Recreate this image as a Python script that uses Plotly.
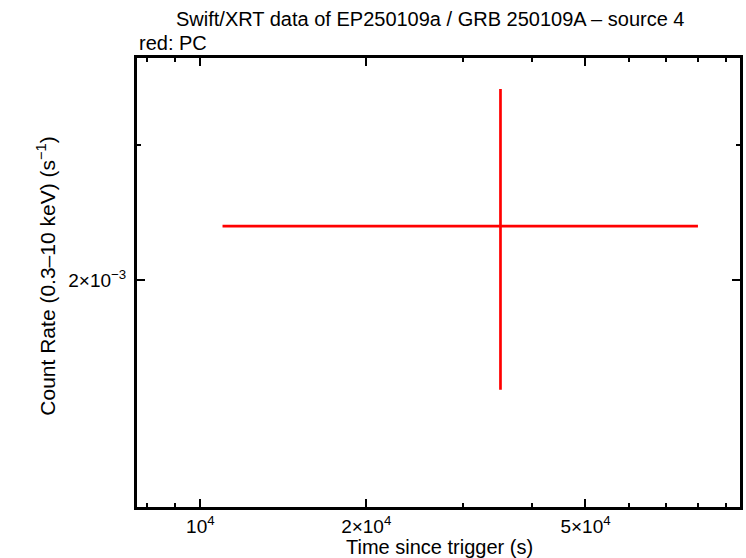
import plotly.graph_objects as go

# Data
time_s = [35050]
time_err_minus = [35050 - 10970]
time_err_plus = [80000 - 35050]
rate = [2.351e-3]
rate_err_plus = [3.549e-3 - 2.351e-3]
rate_err_minus = [2.351e-3 - 1.439e-3]

x_major_vals = [1e4, 2e4, 5e4]
x_major_text = ["10<sup>4</sup>", "2×10<sup>4</sup>", "5×10<sup>4</sup>"]
x_minor_vals = [8e3, 9e3, 3e4, 4e4, 6e4, 7e4, 8e4, 9e4]
y_major_vals = [2e-3]
y_major_text = ["2×10<sup>−3</sup>"]
y_minor_vals = [3e-3]

FONT = "Liberation Sans, Arial, Helvetica, sans-serif"

fig = go.Figure()
fig.add_trace(go.Scatter(
    x=time_s, y=rate, mode="markers",
    marker=dict(size=1, color="red", opacity=0),
    error_x=dict(type="data", symmetric=False, array=time_err_plus,
                 arrayminus=time_err_minus, color="red", thickness=2.7, width=0),
    error_y=dict(type="data", symmetric=False, array=rate_err_plus,
                 arrayminus=rate_err_minus, color="red", thickness=2.7, width=0),
    showlegend=False,
))

fig.update_layout(
    width=746, height=558,
    margin=dict(l=137, r=3, t=58, b=51),
    paper_bgcolor="white", plot_bgcolor="white",
    font=dict(family=FONT, size=19, color="black"),
    xaxis=dict(
        type="log", range=[3.885, 4.9794],
        showgrid=False, zeroline=False,
        showline=True, linecolor="black", linewidth=3, mirror="ticks",
        ticks="inside", ticklen=8, tickwidth=2, tickcolor="black",
        tickmode="array", tickvals=x_major_vals, ticktext=x_major_text,
        minor=dict(ticks="inside", ticklen=4, tickwidth=2, tickcolor="black",
                   tickmode="array", tickvals=x_minor_vals, showgrid=False),
        tickfont=dict(size=19),
    ),
    yaxis=dict(
        type="log", range=[-2.99493, -2.40953],
        showgrid=False, zeroline=False,
        showline=True, linecolor="black", linewidth=3, mirror="ticks",
        ticks="inside", ticklen=8, tickwidth=2, tickcolor="black",
        tickmode="array", tickvals=y_major_vals, ticktext=y_major_text,
        minor=dict(ticks="inside", ticklen=4, tickwidth=2, tickcolor="black",
                   tickmode="array", tickvals=y_minor_vals, showgrid=False),
        tickfont=dict(size=19),
        ticklabelstandoff=4,
    ),
    annotations=[
        dict(text="Swift/XRT data of EP250109a / GRB 250109A – source 4",
             xref="paper", yref="paper", x=0.486, y=1.0, yshift=39,
             xanchor="center", yanchor="middle", showarrow=False,
             font=dict(size=20, family=FONT)),
        dict(text="red: PC", xref="paper", yref="paper", x=0, y=1.0, yshift=15,
             xanchor="left", yanchor="middle", showarrow=False,
             font=dict(size=20, family=FONT)),
        dict(text="Time since trigger (s)", xref="paper", yref="paper",
             x=0.502, y=0, yshift=-40, xanchor="center", yanchor="middle",
             showarrow=False, font=dict(size=20, family=FONT)),
        dict(text="Count Rate (0.3–10 keV) (s<sup>−1</sup>)", xref="paper",
             yref="paper", x=0, xshift=-91, y=0.513, xanchor="center",
             yanchor="middle", textangle=-90, showarrow=False,
             font=dict(size=21, family=FONT)),
    ],
)

fig.write_html("out.html", config={"displayModeBar": False},
               post_script="document.body.style.margin='0';")
